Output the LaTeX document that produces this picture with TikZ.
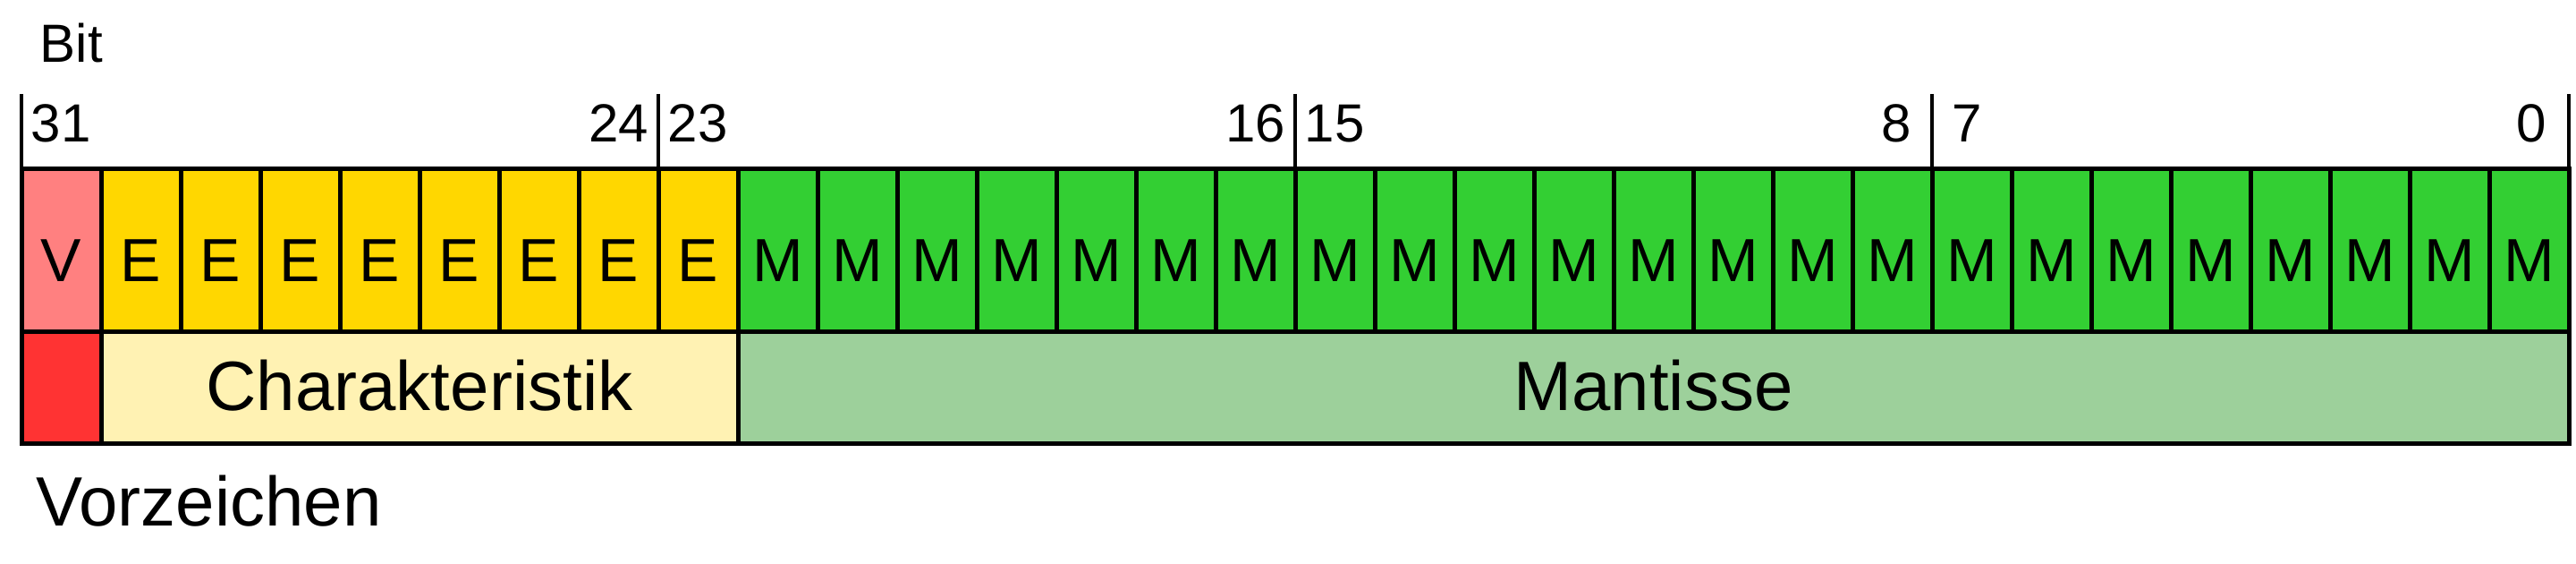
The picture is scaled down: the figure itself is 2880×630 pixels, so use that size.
\documentclass[tikz,border=0pt]{standalone}
\usepackage{fontspec}
\setmainfont{Liberation Sans}
\definecolor{vcol}{HTML}{FF8080}
\definecolor{ecol}{HTML}{FFD700}
\definecolor{mcol}{HTML}{33CF33}
\definecolor{vdark}{HTML}{FF3333}
\definecolor{elight}{HTML}{FFF2B3}
\definecolor{mlight}{HTML}{9DD09B}
\tikzset{
  celltext/.style={anchor=base, inner sep=0pt, font=\fontsize{17}{20}\selectfont},
  numl/.style={anchor=base west, inner sep=0pt, font=\fontsize{15}{18}\selectfont},
  numr/.style={anchor=base east, inner sep=0pt, font=\fontsize{15}{18}\selectfont},
  bigtext/.style={anchor=base, inner sep=0pt, font=\fontsize{19.5}{23}\selectfont},
  tick/.style={line width=1pt},
  frame/.style={line width=1.25pt}
}
\begin{document}
\begin{tikzpicture}[x=0.25pt,y=-0.25pt]
\useasboundingbox (0,0) rectangle (2880,630);
% fills
\fill[vcol] (24,189) rectangle (113,371);
\fill[ecol] (113,189) rectangle (825,371);
\fill[mcol] (825,189) rectangle (2872,371);
\fill[vdark] (24,371) rectangle (113,496);
\fill[elight] (113,371) rectangle (825,496);
\fill[mlight] (825,371) rectangle (2872,496);
% lines
\foreach \i in {1,...,31} \draw[frame] (24+89*\i,189) -- (24+89*\i,371);
\draw[frame] (113,371) -- (113,496);
\draw[frame] (825,371) -- (825,496);
\draw[frame] (24,371) -- (2872,371);
\draw[frame] (24,189) rectangle (2872,496);
\foreach \x in {24,736,1448,2160,2872} \draw[tick] (\x,105) -- (\x,189);
% cell letters
\node[celltext] (v31) at (68.5,315) {V};
\foreach \i in {1,...,8} \node[celltext] (e\i) at (68.5+89*\i,315) {E};
\foreach \i in {9,...,31} \node[celltext] (m\i) at (68.5+89*\i,315) {M};
% bit numbers
\node[numl] (bit) at (44,70) {Bit};
\node[numl] (n31) at (34,159) {31};
\node[numr] (n24) at (726,159) {24};
\node[numl] (n23) at (746,159) {23};
\node[numr] (n16) at (1438,159) {16};
\node[numl] (n15) at (1458,159) {15};
\node[numr] (n8) at (2138,159) {8};
\node[numl] (n7) at (2182,159) {7};
\node[numr] (n0) at (2848,159) {0};
% field labels
\node[bigtext] (char) at (469,459) {Charakteristik};
\node[bigtext] (mant) at (1848.5,459) {Mantisse};
\node[bigtext, anchor=base west] (vorz) at (40,587) {Vorzeichen};
\end{tikzpicture}
\end{document}
